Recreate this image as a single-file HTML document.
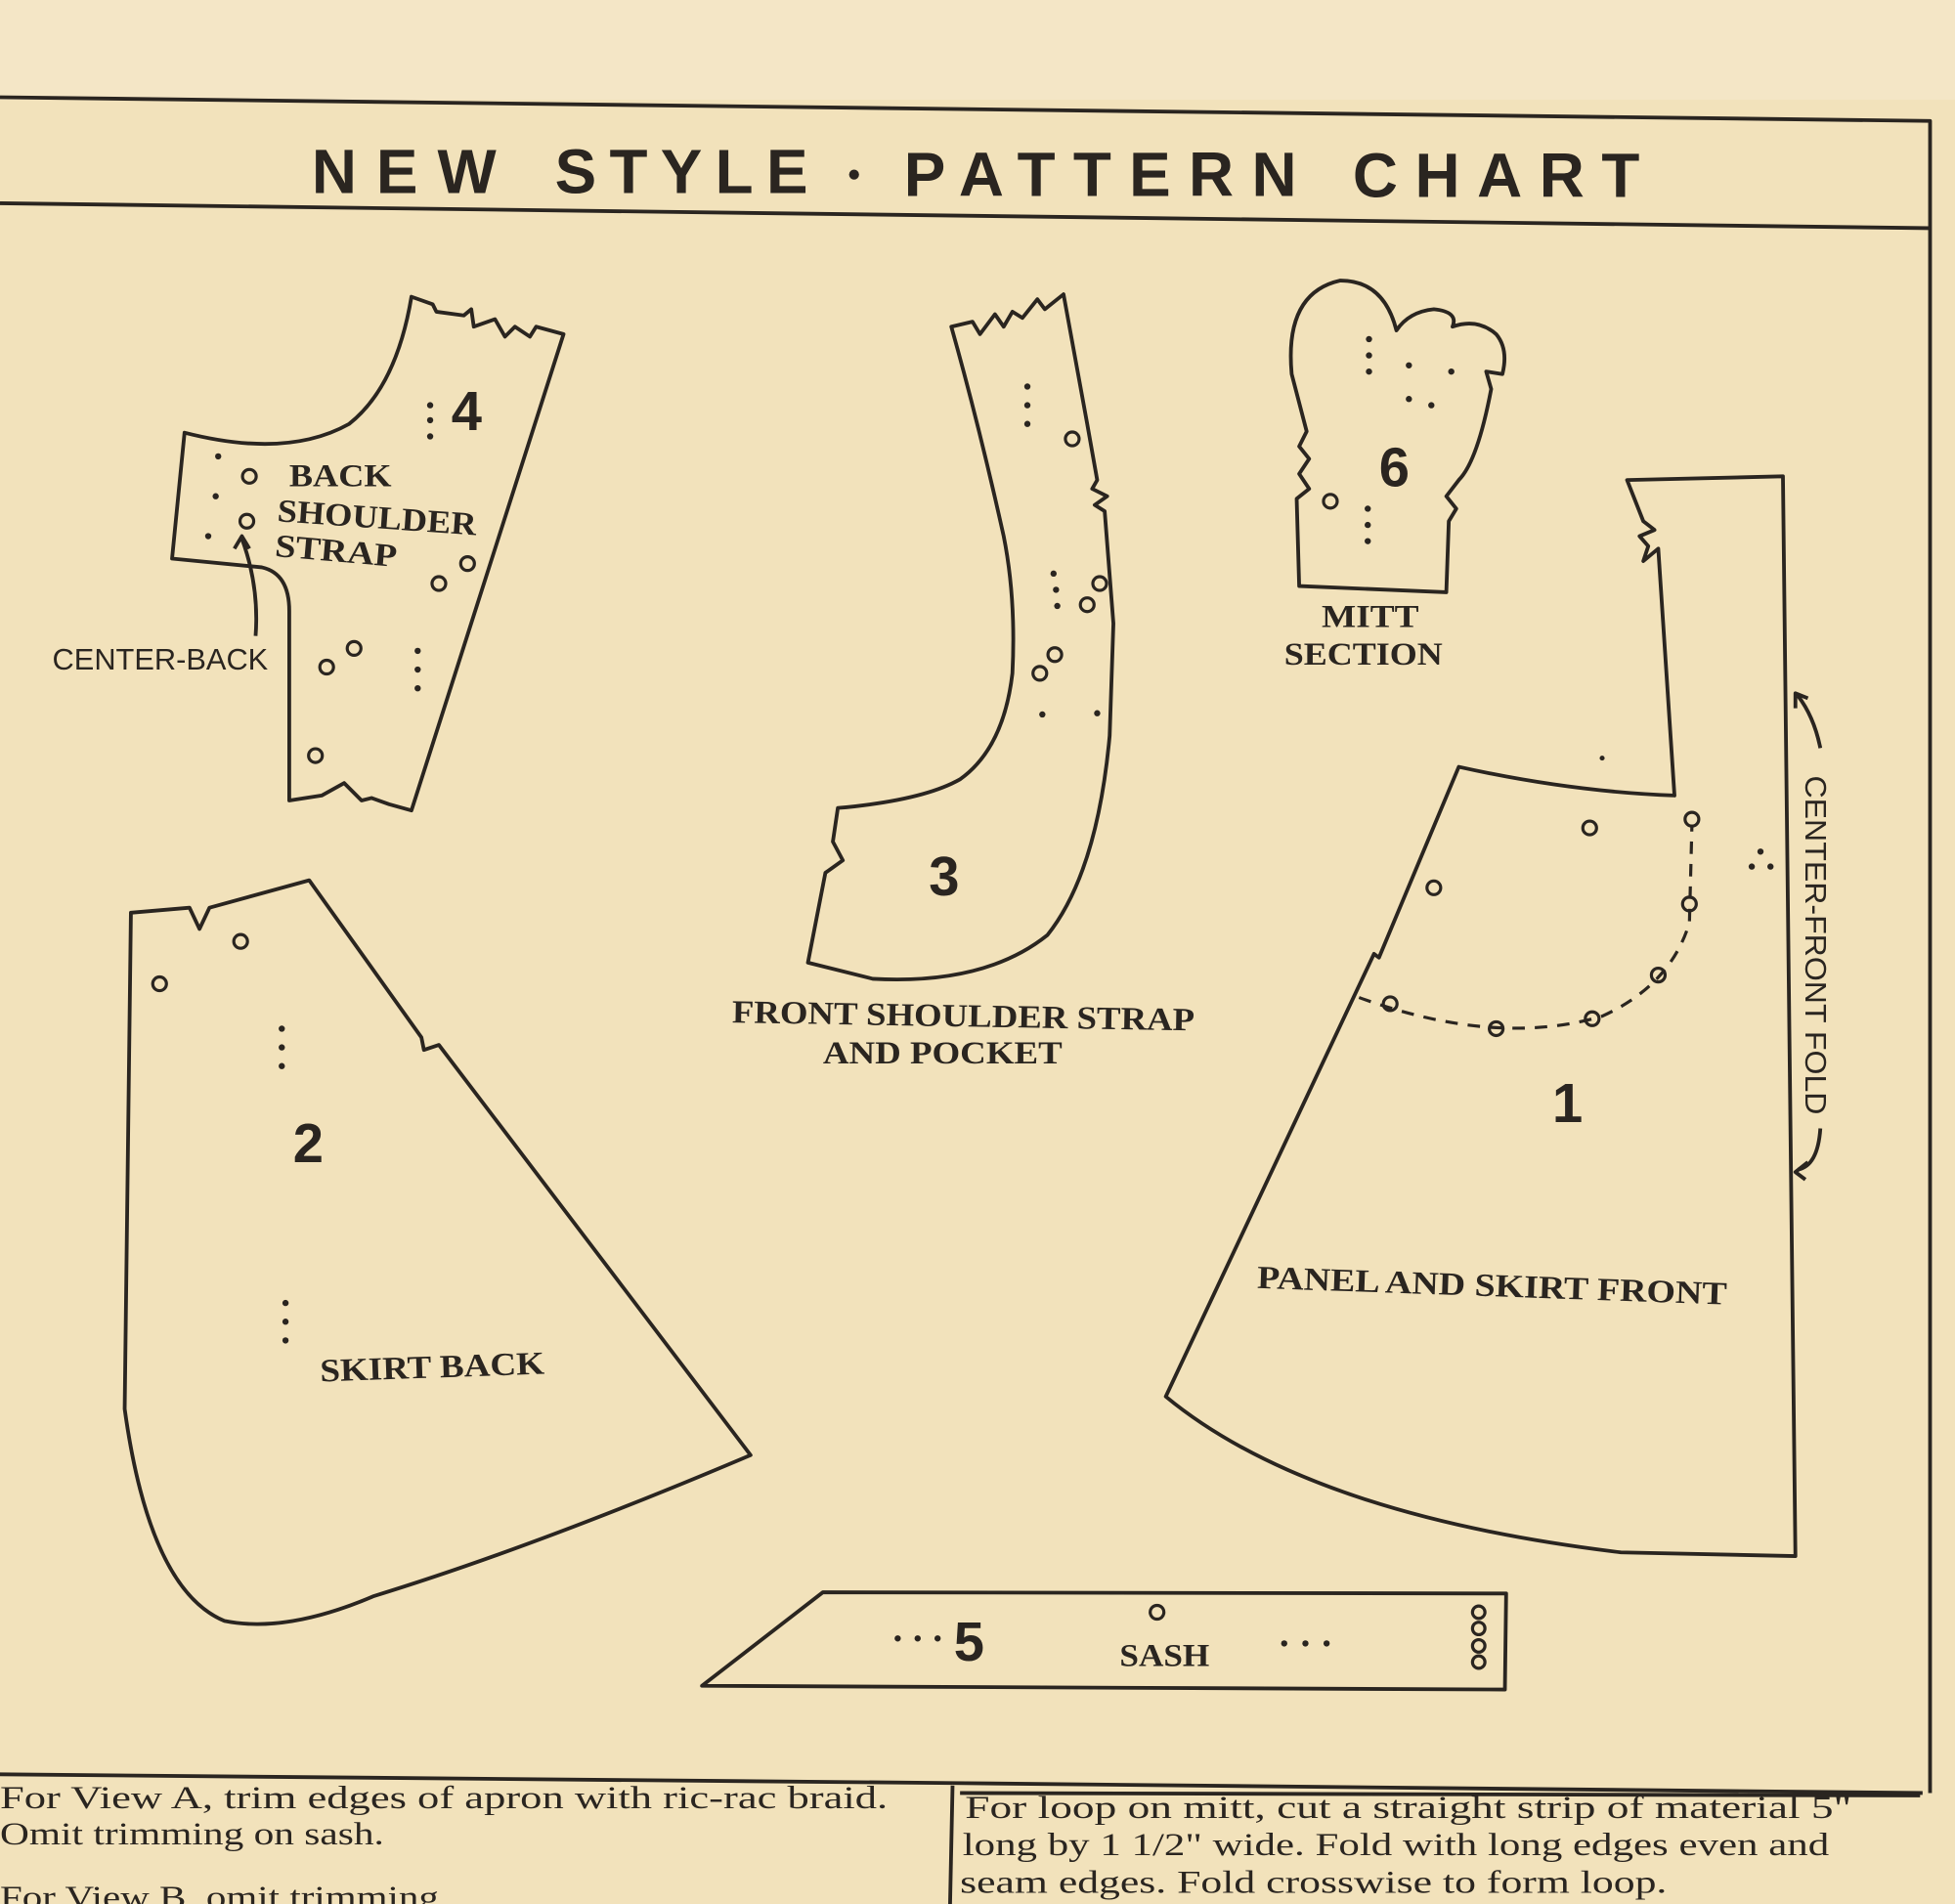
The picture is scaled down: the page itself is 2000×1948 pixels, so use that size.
<!DOCTYPE html>
<html><head><meta charset="utf-8"><style>
html,body{margin:0;padding:0;background:#f2e2bb;}
svg{display:block}
text{font-family:"Liberation Serif",serif;fill:#2a2520;}
.s{font-family:"Liberation Sans",sans-serif;}
</style></head><body>
<svg width="2000" height="1948" viewBox="0 0 1568 1527" preserveAspectRatio="none" xmlns="http://www.w3.org/2000/svg">
<rect x="0" y="0" width="1568" height="1527" fill="#f2e2bb"/>
<rect x="0" y="0" width="1568" height="80" fill="#f4e6c6"/>
<g fill="none" stroke="#2a2520" stroke-width="3" stroke-linejoin="round">
<path d="M0 78 L1548 97 L1548 1438"/>
<path d="M0 163 L1548 183"/>
<path d="M0 1423 L764 1430"/>
<path d="M764 1430 L1542 1438"/>
<path d="M770 1438 L1540 1440"/>
<path d="M764 1432 L762 1527"/>
<path d="M330 238 L347 244 L350 250 L372 253 L378 248 L380 262 L397 256 L405 270 L413 262 L425 270 L430 262 L452 268 L330 650 L312 645 L298 640 L290 642 L276 628 L258 638 L232 642 L232 490 Q232 460 210 455 L138 448 L148 347 Q230 368 280 340 Q318 310 330 238 Z"/>
<path d="M763 262 L780 258 L786 268 L798 252 L805 262 L812 250 L820 255 L832 240 L838 248 L853 236 L872 340 L880 385 L876 392 L888 398 L878 405 L886 410 L893 500 L890 590 Q880 700 840 750 Q790 790 700 785 L648 772 L662 700 L676 690 L668 675 L672 648 Q740 642 770 625 Q805 600 812 540 Q815 480 805 430 Q785 340 763 262 Z"/>
<path d="M1042 470 L1040 400 L1050 392 L1042 380 L1050 368 L1042 358 L1048 346 L1036 300 Q1030 235 1075 225 Q1110 225 1120 265 Q1130 250 1150 248 Q1170 250 1165 262 Q1185 255 1200 268 Q1210 280 1205 300 L1192 298 L1196 312 Q1185 370 1170 385 L1160 398 L1168 408 L1162 418 L1160 475 Z"/>
<path d="M1305 385 L1430 382 L1440 1248 L1300 1245 Q1050 1215 935 1120 L1102 765 L1106 768 L1170 615 Q1260 635 1343 638 L1330 440 L1318 450 L1322 438 L1315 430 L1327 425 L1318 418 Z"/>
<path d="M105 732 L152 728 L160 745 L168 728 L248 706 L338 832 L340 842 L352 838 L602 1167 Q430 1240 300 1280 Q230 1310 180 1300 Q120 1275 100 1130 Z"/>
<path d="M660 1277 L1208 1278 L1207 1355 L563 1352 Z"/>
<path d="M205 510 Q208 470 194 432"/><path d="M188 440 L194 430 L200 440"/>
<path d="M1460 600 Q1455 575 1442 558"/><path d="M1440 568 L1440 556 L1450 560"/>
<path d="M1460 905 Q1458 935 1442 938"/><path d="M1450 932 L1440 940 L1448 946"/>
<path d="M1090 800 Q1200 840 1285 815 Q1340 790 1355 740 L1357 662" stroke-dasharray="10 8" stroke-width="2.5"/>
</g>
<g fill="#2a2520">
<circle cx="345" cy="325" r="2.5"/><circle cx="345" cy="337" r="2.5"/><circle cx="345" cy="350" r="2.5"/>
<circle cx="175" cy="366" r="2.5"/><circle cx="173" cy="398" r="2.5"/><circle cx="167" cy="430" r="2.5"/>
<circle cx="335" cy="522" r="2.5"/><circle cx="335" cy="537" r="2.5"/><circle cx="335" cy="552" r="2.5"/>
<circle cx="824" cy="310" r="2.5"/><circle cx="824" cy="325" r="2.5"/><circle cx="824" cy="340" r="2.5"/>
<circle cx="845" cy="460" r="2.5"/><circle cx="847" cy="473" r="2.5"/><circle cx="848" cy="486" r="2.5"/>
<circle cx="836" cy="573" r="2.5"/><circle cx="880" cy="572" r="2.5"/>
<circle cx="1098" cy="272" r="2.5"/><circle cx="1098" cy="285" r="2.5"/><circle cx="1098" cy="298" r="2.5"/>
<circle cx="1130" cy="293" r="2.5"/><circle cx="1164" cy="298" r="2.5"/><circle cx="1130" cy="320" r="2.5"/><circle cx="1148" cy="325" r="2.5"/>
<circle cx="1097" cy="408" r="2.5"/><circle cx="1097" cy="421" r="2.5"/><circle cx="1097" cy="434" r="2.5"/>
<circle cx="1412" cy="683" r="2.5"/><circle cx="1405" cy="695" r="2.5"/><circle cx="1420" cy="695" r="2.5"/>
<circle cx="226" cy="825" r="2.5"/><circle cx="226" cy="840" r="2.5"/><circle cx="226" cy="855" r="2.5"/>
<circle cx="229" cy="1045" r="2.5"/><circle cx="229" cy="1060" r="2.5"/><circle cx="229" cy="1075" r="2.5"/>
<circle cx="720" cy="1314" r="2.5"/><circle cx="736" cy="1314" r="2.5"/><circle cx="752" cy="1314" r="2.5"/>
<circle cx="1030" cy="1318" r="2.5"/><circle cx="1047" cy="1318" r="2.5"/><circle cx="1064" cy="1318" r="2.5"/>
<circle cx="1285" cy="608" r="2"/>
<circle cx="685" cy="140" r="4"/>
</g>
<g fill="none" stroke="#2a2520" stroke-width="2.5">
<circle cx="200" cy="382" r="5.5"/><circle cx="198" cy="418" r="5.5"/><circle cx="352" cy="468" r="5.5"/><circle cx="375" cy="452" r="5.5"/>
<circle cx="262" cy="535" r="5.5"/><circle cx="284" cy="520" r="5.5"/><circle cx="253" cy="606" r="5.5"/>
<circle cx="860" cy="352" r="5.5"/><circle cx="872" cy="485" r="5.5"/><circle cx="882" cy="468" r="5.5"/><circle cx="834" cy="540" r="5.5"/><circle cx="846" cy="525" r="5.5"/>
<circle cx="1067" cy="402" r="5.5"/>
<circle cx="1275" cy="664" r="5.5"/><circle cx="1150" cy="712" r="5.5"/><circle cx="1357" cy="657" r="5.5"/><circle cx="1355" cy="725" r="5.5"/><circle cx="1330" cy="782" r="5.5"/>
<circle cx="1115" cy="805" r="5.5"/><circle cx="1200" cy="825" r="5.5"/><circle cx="1277" cy="817" r="5.5"/>
<circle cx="128" cy="789" r="5.5"/><circle cx="193" cy="755" r="5.5"/>
<circle cx="928" cy="1293" r="5.5"/><circle cx="1186" cy="1293" r="5"/><circle cx="1186" cy="1306" r="5"/><circle cx="1186" cy="1320" r="5"/><circle cx="1186" cy="1333" r="5"/>
</g>
<g class="s" font-size="50" font-weight="bold">
<text class="s" x="250" y="155" textLength="148" lengthAdjust="spacing">NEW</text>
<text class="s" x="445" y="155" textLength="203" lengthAdjust="spacing">STYLE</text>
<text class="s" x="725" y="157" textLength="315" lengthAdjust="spacing">PATTERN</text>
<text class="s" x="1085" y="158" textLength="230" lengthAdjust="spacing">CHART</text>
</g>
<g font-weight="bold" font-size="44">
<text class="s" x="362" y="345">4</text>
<text class="s" x="745" y="718">3</text>
<text class="s" x="1106" y="390">6</text>
<text class="s" x="1245" y="900">1</text>
<text class="s" x="235" y="932">2</text>
<text class="s" x="765" y="1332">5</text>
</g>
<g font-weight="bold" font-size="26">
<text x="232" y="390" textLength="82" lengthAdjust="spacingAndGlyphs">BACK</text>
<text x="222" y="418" transform="rotate(4 222 418)" textLength="160" lengthAdjust="spacingAndGlyphs">SHOULDER</text>
<text x="220" y="446" transform="rotate(5 220 446)" textLength="98" lengthAdjust="spacingAndGlyphs">STRAP</text>
<text x="1060" y="503" textLength="78" lengthAdjust="spacingAndGlyphs">MITT</text>
<text x="1030" y="533" textLength="127" lengthAdjust="spacingAndGlyphs">SECTION</text>
<text x="587" y="820" transform="rotate(1 587 820)" textLength="371" lengthAdjust="spacingAndGlyphs">FRONT SHOULDER STRAP</text>
<text x="660" y="853" textLength="192" lengthAdjust="spacingAndGlyphs">AND POCKET</text>
<text x="1008" y="1033" transform="rotate(2 1008 1033)" textLength="377" lengthAdjust="spacingAndGlyphs">PANEL AND SKIRT FRONT</text>
<text x="257" y="1108" transform="rotate(-2 257 1108)" textLength="180" lengthAdjust="spacingAndGlyphs">SKIRT BACK</text>
<text x="898" y="1336" textLength="72" lengthAdjust="spacingAndGlyphs">SASH</text>
</g>
<text class="s" x="42" y="537" font-size="24" textLength="173" lengthAdjust="spacingAndGlyphs">CENTER-BACK</text>
<text class="s" x="1448" y="622" font-size="24" transform="rotate(90 1448 622)" textLength="272" lengthAdjust="spacingAndGlyphs">CENTER-FRONT  FOLD</text>
<g font-size="26">
<text x="0" y="1450" textLength="712" lengthAdjust="spacingAndGlyphs">For View A, trim edges of apron with ric-rac braid.</text>
<text x="0" y="1479" textLength="308" lengthAdjust="spacingAndGlyphs">Omit trimming on sash.</text>
<text x="0" y="1530" textLength="360" lengthAdjust="spacingAndGlyphs">For View B, omit trimming.</text>
<text x="774" y="1458" textLength="711" lengthAdjust="spacingAndGlyphs">For loop on mitt, cut a straight strip of material 5"</text>
<text x="772" y="1488" textLength="695" lengthAdjust="spacingAndGlyphs">long by 1 1/2" wide. Fold with long edges even and</text>
<text x="770" y="1518" textLength="567" lengthAdjust="spacingAndGlyphs">seam edges. Fold crosswise to form loop.</text>
</g>
</svg>
</body></html>
